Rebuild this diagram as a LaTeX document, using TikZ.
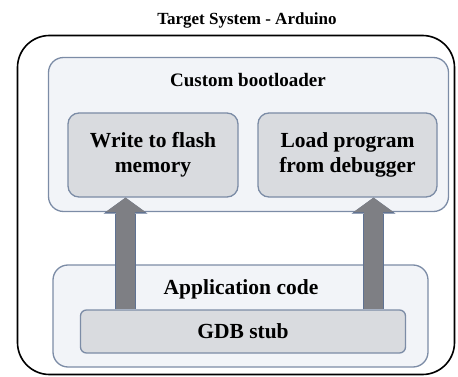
\documentclass[tikz,border=0pt]{standalone}
\usepackage{fontspec}
\setmainfont{Liberation Serif}
\usetikzlibrary{arrows.meta,calc}

\definecolor{edgeblue}{HTML}{7C8CA6}
\definecolor{paleblue}{HTML}{F2F4F8}
\definecolor{boxgrey}{HTML}{D9DBDF}
\definecolor{shaftgrey}{HTML}{7E7F84}
\definecolor{arrowedge}{HTML}{5F7292}

\begin{document}
\begin{tikzpicture}[x=1pt,y=-1pt,
    layer/.style={draw=edgeblue, line width=1.3pt, fill=paleblue, rounded corners=15pt},
    block/.style={draw=edgeblue, line width=1.3pt, fill=boxgrey, rounded corners=11pt,
      align=center, font=\bfseries\fontsize{21.5}{25}\selectfont},
    bigarrow/.style={draw=shaftgrey, line width=18.5pt,
      -{Triangle[line width=0pt, length=14.5pt, width=40pt]},
      preaction={draw=arrowedge, line width=21.5pt, -{Triangle[line width=0pt, length=16pt, width=44pt]}}}]
    \useasboundingbox (0,0) rectangle (458,377);
      \node (title) at (247, 20) {\bfseries\fontsize{17}{20}\selectfont Target System - Arduino};
      \node[draw=black, line width=1.6pt, rounded corners=32pt, minimum width=437pt, minimum height=339pt] (sys) at (236, 205) {};
      \node[layer, minimum width=400pt, minimum height=154pt] (boot) at (248.5, 134.5) {};
      \node (bootlbl) at (248, 80) {\bfseries\fontsize{19}{22}\selectfont Custom bootloader};
      \node[block, minimum width=170pt, minimum height=84pt] (write) at (153, 155) {Write to flash\\memory};
      \node[block, minimum width=179pt, minimum height=84pt] (load) at (347.5, 155) {Load program\\from debugger};
      \node[layer, minimum width=375pt, minimum height=102pt] (app) at (240.5, 316) {};
      \node (applbl) at (241, 289) {\bfseries\fontsize{21.5}{25}\selectfont Application code};
      \node[block, rounded corners=6pt, minimum width=325pt, minimum height=43pt] (gdb) at (243, 331.5) {GDB stub};
      \coordinate (wfoot) at ($(gdb.north west)!0.14!(gdb.north east)$);
      \coordinate (lfoot) at ($(gdb.north west)!0.9!(gdb.north east)$);
      \draw[bigarrow] (wfoot) -- (wfoot |- write.south);
      \draw[bigarrow] (lfoot) -- (lfoot |- load.south);
\end{tikzpicture}
\end{document}
